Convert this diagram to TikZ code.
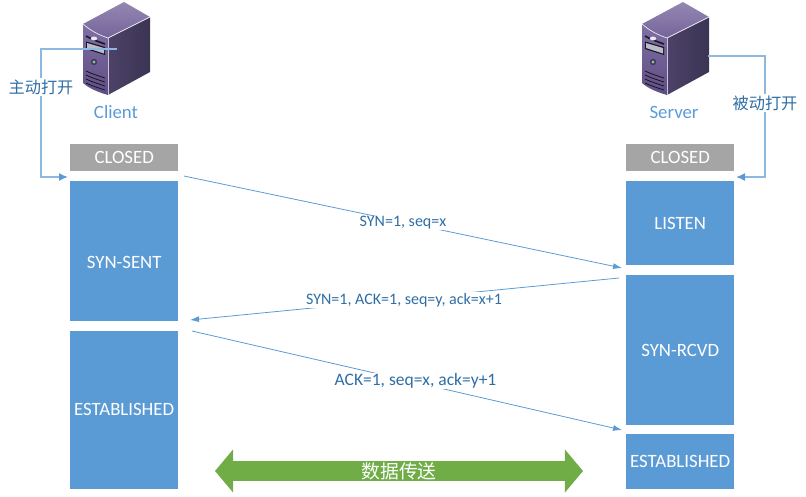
\documentclass[tikz,border=0pt]{standalone}
\usepackage{fontspec}
\setmainfont{Carlito}
\newfontfamily\cjk{Noto Sans CJK SC}
\usetikzlibrary{arrows.meta,shapes.arrows}
\definecolor{boxblue}{HTML}{5B9BD5}
\definecolor{boxgray}{HTML}{A5A5A5}
\definecolor{linkblue}{HTML}{5B9BD5}
\definecolor{sidelink}{HTML}{8DB8E0}
\definecolor{labelblue}{HTML}{2F6EA5}
\definecolor{datagreen}{HTML}{70AD47}
\definecolor{srvfronttop}{HTML}{7F6FA3}
\definecolor{srvfrontbot}{HTML}{5E4E85}
\definecolor{srvsideleft}{HTML}{4D4268}
\definecolor{srvsideright}{HTML}{3B3453}
\definecolor{srvtoptop}{HTML}{9587B2}
\definecolor{srvtopbot}{HTML}{74659A}
\definecolor{srvbay}{HTML}{B9BDC9}
\tikzset{
  x=1pt,y=-1pt,
  statebox/.style={draw=none,fill=boxblue,text=white,minimum width=108pt,inner sep=0pt,font=\fontsize{18.8}{22}\selectfont,anchor=north west},
  closedbox/.style={statebox,fill=boxgray},
  msg/.style={draw=linkblue,line width=0.8pt,-{Latex[length=9pt,width=6pt]}},
  sidelinkline/.style={draw=sidelink,line width=1.5pt,-{Latex[length=9pt,width=8pt,color=boxblue]}},
  msglabel/.style={fill=white,text=labelblue,inner sep=1pt,font=\fontsize{16}{19}\selectfont},
  sidelabel/.style={fill=white,text=labelblue,inner xsep=1pt,inner ysep=2pt,font=\cjk\fontsize{16.2}{19}\selectfont},
  hostlabel/.style={text=boxblue,inner sep=0pt,font=\fontsize{18.8}{22}\selectfont},
  pics/serverbox/.style={code={
    \shade[top color=srvfronttop,bottom color=srvfrontbot]
      (83,24) .. controls (91,31) and (99,35) .. (108,38) -- (108,95) .. controls (98,92) and (90,89) .. (83,83) -- cycle;
    \shade[left color=srvsideleft,right color=srvsideright]
      (108,38) -- (150,17) -- (150,72) -- (108,95) -- cycle;
    \shade[top color=srvtoptop,bottom color=srvtopbot]
      (83,24) -- (124,2) -- (150,17) -- (108,38) .. controls (99,35) and (91,31) .. (83,24) -- cycle;
    \draw[white!85!srvfronttop,line width=0.7pt] (83,24) .. controls (91,31) and (99,35) .. (108,38) -- (150,17);
    \draw[white!60!srvfronttop,line width=0.5pt] (108,38) -- (108,95);
    \draw[black!70!srvfrontbot,line width=1.6pt] (86,36) .. controls (91,39) and (99,42) .. (105,44);
    \fill[white!85!srvfronttop] (94,38.5) ellipse (3.2 and 2);
    \fill[black!75!srvfrontbot] (86,41.5) -- (105,47) -- (105,55) -- (86,49) -- cycle;
    \fill[srvbay] (87,43) -- (104,48) -- (104,53.5) -- (87,48) -- cycle;
    \fill[srvfrontbot!70!black] (94,62) circle (3.2);
    \fill[green!35!gray!70!white] (94,62) circle (1.7);
    \foreach \yy in {71,75,79,83} {\draw[black!75!srvfrontbot,line width=0.8pt] (86,\yy) .. controls (92,\yy+3) and (99,\yy+5) .. (105,\yy+7);}
  }}
}
\begin{document}
\begin{tikzpicture}
\useasboundingbox (0,0) rectangle (806,496);
% host icons
\pic at (0,0) {serverbox};
\pic at (559,0) {serverbox};
\coordinate (clientport) at (117,49);
\coordinate (serverport) at (708,56);
\node[hostlabel] (clientname) at (116,112) {Client};
\node[hostlabel] (servername) at (674,112) {Server};
% client states
\node[closedbox,minimum height=27pt] (cclosed) at (70,144) {CLOSED};
\node[statebox,minimum height=140pt] (csent) at (70,181) {\smash{\raisebox{-17.5pt}{SYN-SENT}}};
\node[statebox,minimum height=158pt] (cest) at (70,331) {\smash{\raisebox{-5.5pt}{ESTABLISHED}}};
% server states
\node[closedbox,minimum height=27pt] (sclosed) at (626,144) {CLOSED};
\node[statebox,minimum height=84pt] (slisten) at (626,181) {LISTEN};
\node[statebox,minimum height=150pt] (srcvd) at (626,275) {SYN-RCVD};
\node[statebox,minimum height=55pt] (sest) at (626,434) {ESTABLISHED};
% anchors of the connectors in the gaps between boxes
\coordinate (cclosedin) at (68,177);
\coordinate (sclosedin) at (736,177);
\coordinate (m1a) at (184,176);
\coordinate (m1b) at (622,268);
\coordinate (m2a) at (619,278);
\coordinate (m2b) at (190,320);
\coordinate (m3a) at (192,331);
\coordinate (m3b) at (622,430);
% open connectors
\draw[sidelinkline] (clientport) -- (41,49) -- (41,177) -- (cclosedin);
\draw[sidelinkline] (serverport) -- (765,56) -- (765,177) -- (sclosedin);
\node[sidelabel] (activeopen) at (41,87) {主动打开};
\node[sidelabel] (passiveopen) at (765,103) {被动打开};
% messages
\draw[msg] (m1a) -- (m1b);
\draw[msg] (m2a) -- (m2b);
\draw[msg] (m3a) -- (m3b);
\node[msglabel] (l1) at (403,223) {SYN=1, seq=x};
\node[msglabel] (l2) at (404,300) {SYN=1, ACK=1, seq=y, ack=x+1};
\node[msglabel,font=\fontsize{17.5}{20}\selectfont] (l3) at (415.5,381) {ACK=1, seq=x, ack=y+1};
% data transfer
\node[draw=none,fill=datagreen,text=white,shape=double arrow,double arrow head extend=10.5pt,
  minimum height=368pt,minimum width=43pt,inner sep=0pt,double arrow tip angle=100,
  font=\cjk\fontsize{18.8}{22}\selectfont] (data) at (399,471) {数据传送};
\end{tikzpicture}
\end{document}
